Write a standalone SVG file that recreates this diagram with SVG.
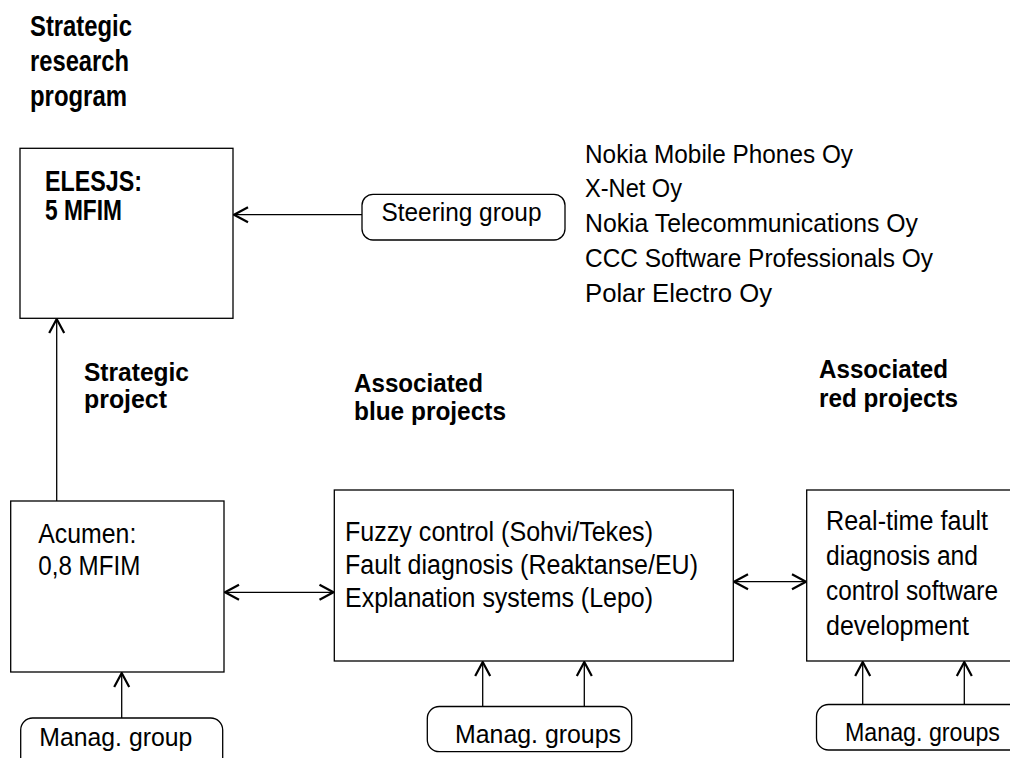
<svg xmlns="http://www.w3.org/2000/svg" width="1010" height="758" viewBox="0 0 1010 758">
  <style>
    .box { fill: #fff; stroke: #000; stroke-width: 1.3; }
    .conn { fill: none; stroke: #000; stroke-width: 1.3; }
    .t { font-family: "Liberation Sans", Arial, sans-serif; font-size: 27px; fill: #000; }
    .tm { font-family: "Liberation Sans", Arial, sans-serif; font-size: 26px; fill: #000; }
    .tn { font-family: "Liberation Sans", Arial, sans-serif; font-size: 25px; fill: #000; }
    .b { font-family: "Liberation Sans", Arial, sans-serif; font-size: 29px; font-weight: bold; fill: #000; }
    .bs { font-family: "Liberation Sans", Arial, sans-serif; font-size: 26px; font-weight: bold; fill: #000; }
  </style>
  <defs>
    <marker id="head" markerUnits="userSpaceOnUse" markerWidth="20" markerHeight="20" viewBox="-16 -10 20 20" refX="0" refY="0" orient="auto-start-reverse">
      <path d="M -14 -7.5 L 0 0 L -14 7.5" fill="none" stroke="#000" stroke-width="2.2"/>
    </marker>
  </defs>
  <rect width="1010" height="758" fill="#fff"/>

  <!-- headings -->
  <g id="heading-program">
    <text class="b" x="30" y="36" textLength="102" lengthAdjust="spacingAndGlyphs">Strategic</text>
    <text class="b" x="30" y="71" textLength="99" lengthAdjust="spacingAndGlyphs">research</text>
    <text class="b" x="30" y="106" textLength="97" lengthAdjust="spacingAndGlyphs">program</text>
  </g>
  <g id="heading-strategic">
    <text class="bs" x="84" y="381" textLength="105" lengthAdjust="spacingAndGlyphs">Strategic</text>
    <text class="bs" x="84" y="408" textLength="83" lengthAdjust="spacingAndGlyphs">project</text>
  </g>
  <g id="heading-blue">
    <text class="bs" x="354" y="392" textLength="129" lengthAdjust="spacingAndGlyphs">Associated</text>
    <text class="bs" x="354" y="420" textLength="152" lengthAdjust="spacingAndGlyphs">blue projects</text>
  </g>
  <g id="heading-red">
    <text class="bs" x="819" y="378" textLength="129" lengthAdjust="spacingAndGlyphs">Associated</text>
    <text class="bs" x="819" y="407" textLength="139" lengthAdjust="spacingAndGlyphs">red projects</text>
  </g>

  <!-- connectors -->
  <g id="connectors">
    <line class="conn" x1="362" y1="214.7" x2="234" y2="214.7" marker-end="url(#head)"/>
    <line class="conn" x1="56.7" y1="501" x2="56.7" y2="319" marker-end="url(#head)"/>
    <line class="conn" x1="225" y1="592.3" x2="333.5" y2="592.3" marker-start="url(#head)" marker-end="url(#head)"/>
    <line class="conn" x1="734" y1="581.7" x2="806" y2="581.7" marker-start="url(#head)" marker-end="url(#head)"/>
    <line class="conn" x1="121.7" y1="718" x2="121.7" y2="673" marker-end="url(#head)"/>
    <line class="conn" x1="482.7" y1="706.5" x2="482.7" y2="662" marker-end="url(#head)"/>
    <line class="conn" x1="584.3" y1="706.5" x2="584.3" y2="662" marker-end="url(#head)"/>
    <line class="conn" x1="862.7" y1="704.5" x2="862.7" y2="662" marker-end="url(#head)"/>
    <line class="conn" x1="964.3" y1="704.5" x2="964.3" y2="662" marker-end="url(#head)"/>
  </g>

  <!-- research program -->
  <g id="elesjs">
    <rect class="box" x="20" y="148.3" width="213" height="170"/>
    <text class="b" x="45" y="190.7" textLength="97" lengthAdjust="spacingAndGlyphs">ELESJS:</text>
    <text class="b" x="45" y="220" textLength="77" lengthAdjust="spacingAndGlyphs">5 MFIM</text>
  </g>

  <g id="steering-group">
    <rect class="box" x="362" y="194.3" width="203" height="45.7" rx="11"/>
    <text class="tn" x="381.5" y="220.5" textLength="160" lengthAdjust="spacingAndGlyphs">Steering group</text>
  </g>

  <g id="companies">
    <text class="tn" x="585" y="162.5" textLength="268" lengthAdjust="spacingAndGlyphs">Nokia Mobile Phones Oy</text>
    <text class="tn" x="585" y="197" textLength="97" lengthAdjust="spacingAndGlyphs">X-Net Oy</text>
    <text class="tn" x="585" y="232" textLength="333" lengthAdjust="spacingAndGlyphs">Nokia Telecommunications Oy</text>
    <text class="tn" x="585" y="267" textLength="348" lengthAdjust="spacingAndGlyphs">CCC Software Professionals Oy</text>
    <text class="tn" x="585" y="301.5" textLength="187" lengthAdjust="spacingAndGlyphs">Polar Electro Oy</text>
  </g>

  <!-- strategic project -->
  <g id="acumen">
    <rect class="box" x="10.7" y="501" width="213.3" height="171"/>
    <text class="t" x="38.3" y="543.3" textLength="98" lengthAdjust="spacingAndGlyphs">Acumen:</text>
    <text class="t" x="38.3" y="575" textLength="102" lengthAdjust="spacingAndGlyphs">0,8 MFIM</text>
  </g>
  <g id="manag-group">
    <rect class="box" x="20.7" y="718" width="202" height="70" rx="12"/>
    <text class="tm" x="39.3" y="746" textLength="153" lengthAdjust="spacingAndGlyphs">Manag. group</text>
  </g>

  <!-- blue projects -->
  <g id="blue-projects">
    <rect class="box" x="334.3" y="490" width="399" height="171"/>
    <text class="t" x="345" y="541" textLength="308" lengthAdjust="spacingAndGlyphs">Fuzzy control (Sohvi/Tekes)</text>
    <text class="t" x="345" y="574" textLength="353" lengthAdjust="spacingAndGlyphs">Fault diagnosis (Reaktanse/EU)</text>
    <text class="t" x="345" y="607" textLength="308" lengthAdjust="spacingAndGlyphs">Explanation systems (Lepo)</text>
  </g>
  <g id="manag-groups-blue">
    <rect class="box" x="427.3" y="706.5" width="204.4" height="45.2" rx="12"/>
    <text class="tm" x="455" y="742.5" textLength="166" lengthAdjust="spacingAndGlyphs">Manag. groups</text>
  </g>

  <!-- red projects -->
  <g id="red-projects">
    <rect class="box" x="806.7" y="490" width="230" height="171"/>
    <text class="t" x="826" y="530" textLength="162" lengthAdjust="spacingAndGlyphs">Real-time fault</text>
    <text class="t" x="826" y="565" textLength="152" lengthAdjust="spacingAndGlyphs">diagnosis and</text>
    <text class="t" x="826" y="600" textLength="172" lengthAdjust="spacingAndGlyphs">control software</text>
    <text class="t" x="826" y="635" textLength="143" lengthAdjust="spacingAndGlyphs">development</text>
  </g>
  <g id="manag-groups-red">
    <rect class="box" x="816.5" y="704.5" width="230" height="45.5" rx="12"/>
    <text class="tm" x="845" y="740.5" textLength="155" lengthAdjust="spacingAndGlyphs">Manag. groups</text>
  </g>
</svg>
